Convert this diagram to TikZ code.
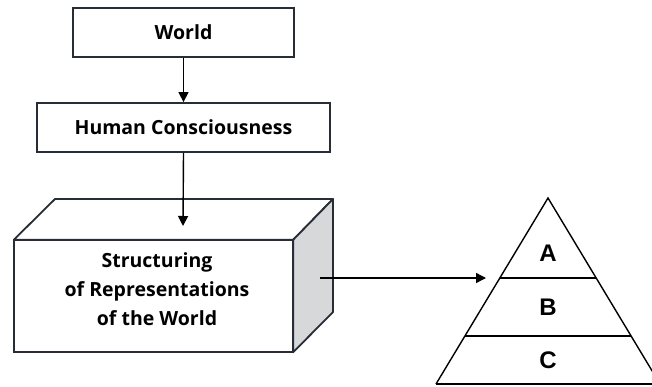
\documentclass[tikz,border=0pt]{standalone}
\usepackage{fontspec}
\setmainfont{Open Sans}
\newfontfamily\letterfont{Liberation Sans}
\usetikzlibrary{arrows.meta}
\definecolor{edge}{HTML}{262D36}
\definecolor{side}{HTML}{D6D8DA}
\begin{document}
\begin{tikzpicture}[x=1pt,y=-1pt,
  frame/.style={draw=edge,line width=1.8pt,fill=white},
  boxtext/.style={font=\fontsize{19.5}{29}\selectfont\bfseries,text=black},
  letter/.style={font=\fontsize{24}{26}\selectfont\letterfont\bfseries,text=black},
  flow/.style={line width=1.4pt,draw=black,-{Triangle[length=10pt,width=10pt]}},
  rule/.style={draw=black,line width=1.4pt}
]
\useasboundingbox (0,0) rectangle (652,386);
\clip (0,0) rectangle (652,386);

% upper boxes
\node[frame,boxtext,minimum width=221pt,minimum height=49pt] (world) at (183.5,32.5) {World};
\node[frame,boxtext,minimum width=293pt,minimum height=49pt] (hc) at (183.5,127.5) {Human Consciousness};
\draw[flow] (world.south) -- (hc.north);

% cuboid: top and side faces behind the front face
\coordinate (btl) at (55,199);
\coordinate (btr) at (333,199);
\coordinate (bbr) at (333,312);
\node[minimum width=279pt,minimum height=112pt,inner sep=0pt] (front) at (153.5,296) {};
\filldraw[draw=edge,fill=white,line width=1.8pt,line join=round]
  (front.north west) -- (btl) -- (btr) -- (front.north east) -- cycle;
\filldraw[draw=edge,fill=side,line width=1.8pt,line join=round]
  (front.north east) -- (btr) -- (bbr) -- (front.south east) -- cycle;
\node[frame,minimum width=279pt,minimum height=112pt,inner sep=0pt] at (front.center) {};
\node[boxtext,align=center] (frontlabel) at (157,289) {Structuring\\of Representations\\of the World};

\coordinate (topin) at (183,226);
\draw[flow] (hc.south) -- (topin);

% pyramid
\coordinate (apex) at (548,198);
\coordinate (bl) at (436,384);
\coordinate (br) at (660,384);
\draw[rule,line join=miter] (bl) -- (apex) -- (br);
\draw[rule] (bl) -- (br);
\draw[rule] (499.8,278) -- (596.2,278);
\draw[rule] (464.9,336) -- (631.1,336);
\node[letter] (la) at (548,253) {A};
\node[letter] (lb) at (548,307) {B};
\node[letter] (lc) at (548,360) {C};

% link from cuboid to pyramid
\coordinate (sidept) at (320,278);
\coordinate (pyin) at (486,278);
\draw[flow] (sidept) -- (pyin);
\end{tikzpicture}
\end{document}
